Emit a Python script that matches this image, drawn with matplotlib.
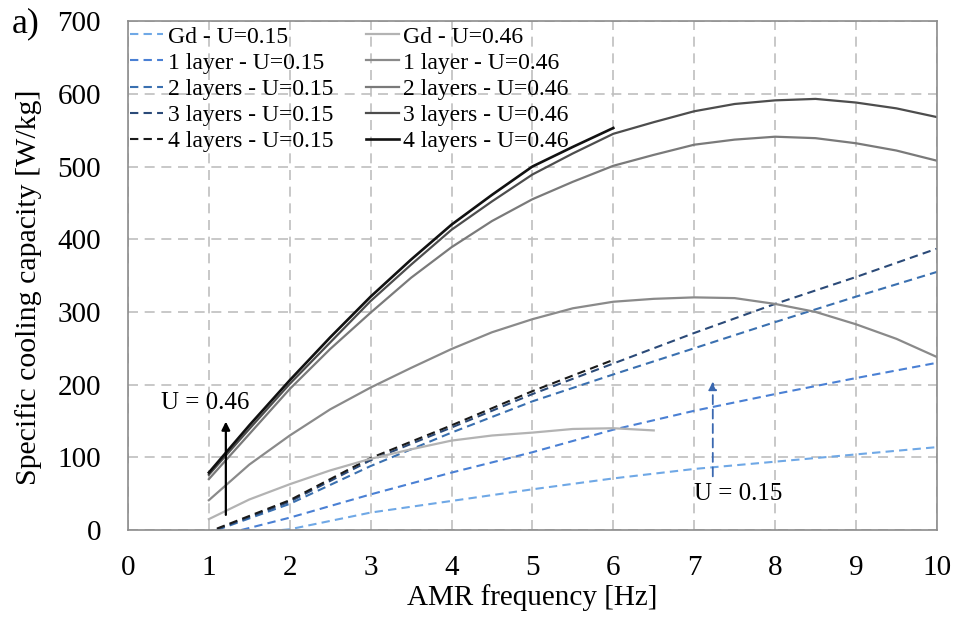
import matplotlib
matplotlib.use("Agg")
import matplotlib.pyplot as plt

# ---- data ----
# U = 0.46 (solid lines)
x_gd_46 = [1, 1.5, 2, 2.5, 3, 3.5, 4, 4.5, 5, 5.5, 6, 6.5]
y_gd_46 = [15, 42, 63, 82, 98, 111, 123, 130, 134, 139, 140, 137]
x_l_46 = [1, 1.5, 2, 2.5, 3, 3.5, 4, 4.5, 5, 5.5, 6, 6.5, 7, 7.5, 8, 8.5, 9, 9.5, 10]
y_1l_46 = [41, 90, 130, 166, 196, 223, 249, 272, 290, 305, 314, 318, 320, 319, 311, 300, 283, 263, 238]
y_2l_46 = [70, 132, 194, 249, 299, 347, 389, 425, 455, 479, 501, 516, 530, 537, 541, 539, 532, 522, 508]
y_3l_46 = [76, 139, 201, 258, 315, 365, 413, 452, 489, 518, 545, 561, 576, 586, 591, 593, 588, 580, 568]
x_4l_46 = [1, 1.5, 2, 2.5, 3, 3.5, 4, 4.5, 5, 5.5, 6]
y_4l_46 = [79, 144, 206, 265, 321, 372, 420, 461, 500, 527, 553]

# U = 0.15 (dashed lines)
x_gd_15 = [1.9, 2, 3, 4, 5, 6, 7, 8, 9, 10]
y_gd_15 = [0, 1, 24, 40, 56, 71, 84, 94, 104, 114]
x_1l_15 = [1.4, 2, 3, 4, 5, 6, 7, 8, 9, 10]
y_1l_15 = [0, 17, 49, 79, 107, 138, 164, 187, 209, 230]
x_l_15 = [1.1, 2, 3, 4, 5, 6, 7, 8, 9, 10]
y_2l_15 = [0, 36, 88, 134, 177, 214, 250, 286, 321, 355]
y_3l_15 = [1, 39, 96, 141, 187, 229, 271, 311, 348, 387]
x_4l_15 = [1.1, 2, 3, 4, 5, 6]
y_4l_15 = [2, 41, 99, 144, 191, 234]

x_ticks = list(range(0, 11))
y_ticks = list(range(0, 701, 100))

plt.rcParams['font.family'] = ['Liberation Serif', 'DejaVu Serif']

fig = plt.figure(figsize=(9.55, 6.21), dpi=100)
ax = fig.add_axes([0.134, 0.1465, 0.847, 0.8195])

ls_dash = (0, (4, 2.5))
h1 = ax.plot(x_gd_15, y_gd_15, color='#6fa8e6', lw=1.5, ls=ls_dash, label='Gd - U=0.15')[0]
h2 = ax.plot(x_1l_15, y_1l_15, color='#4a80d4', lw=1.5, ls=ls_dash, label='1 layer - U=0.15')[0]
h3 = ax.plot(x_l_15, y_2l_15, color='#3a70b0', lw=1.5, ls=ls_dash, label='2 layers - U=0.15')[0]
h4 = ax.plot(x_l_15, y_3l_15, color='#2b4a78', lw=1.5, ls=ls_dash, label='3 layers - U=0.15')[0]
h5 = ax.plot(x_4l_15, y_4l_15, color='#1a1a1a', lw=1.5, ls=ls_dash, label='4 layers - U=0.15')[0]

s1 = ax.plot(x_gd_46, y_gd_46, color='#b3b3b3', lw=1.6, label='Gd - U=0.46')[0]
s2 = ax.plot(x_l_46, y_1l_46, color='#8a8a8a', lw=1.6, label='1 layer - U=0.46')[0]
s3 = ax.plot(x_l_46, y_2l_46, color='#7a7a7a', lw=1.6, label='2 layers - U=0.46')[0]
s4 = ax.plot(x_l_46, y_3l_46, color='#4d4d4d', lw=1.6, label='3 layers - U=0.46')[0]
s5 = ax.plot(x_4l_46, y_4l_46, color='#111111', lw=1.9, label='4 layers - U=0.46')[0]

ax.set_xlim(0, 10)
ax.set_ylim(0, 700)
ax.set_xticks(x_ticks)
ax.set_yticks(y_ticks)
ax.tick_params(length=0, labelsize=21)
ax.tick_params(axis='x', pad=18)
ax.tick_params(axis='y', pad=19.5)
ax.grid(True, color='#bfbfbf', lw=1.2, ls=(0, (6, 4)))
ax.set_axisbelow(True)
for sp in ax.spines.values():
    sp.set_color('#8c8c8c')
    sp.set_linewidth(1.2)

ax.set_xlabel('AMR frequency [Hz]', fontsize=21)
ax.xaxis.set_label_coords(0.5, -0.106)
ax.set_ylabel('Specific cooling capacity [W/kg]', fontsize=21.5)
ax.yaxis.set_label_coords(-0.106, 0.477)

leg = ax.legend(handles=[h1, h2, h3, h4, h5, s1, s2, s3, s4, s5], ncol=2,
                loc='upper left', bbox_to_anchor=(0.0, 0.995), frameon=False,
                fontsize=17, handlelength=1.4, handletextpad=0.2,
                columnspacing=1.36, labelspacing=0.195, borderaxespad=0.0,
                borderpad=0.1)

# annotations
ax.annotate('', xy=(1.21, 153), xytext=(1.21, 17),
            arrowprops=dict(arrowstyle='-|>', color='black', lw=1.6,
                            mutation_scale=12))
ax.text(0.95, 175, 'U = 0.46', fontsize=18, ha='center', va='center')
ax.annotate('', xy=(7.23, 208), xytext=(7.23, 70),
            arrowprops=dict(arrowstyle='-|>', color='#3a68b0', lw=1.3,
                            ls=(0, (5, 3)), mutation_scale=12))
ax.text(7.55, 50, 'U = 0.15', fontsize=18, ha='center', va='center')

fig.text(0.012, 0.962, 'a)', fontsize=26, ha='left', va='center')

fig.savefig('out.png', dpi=100)
